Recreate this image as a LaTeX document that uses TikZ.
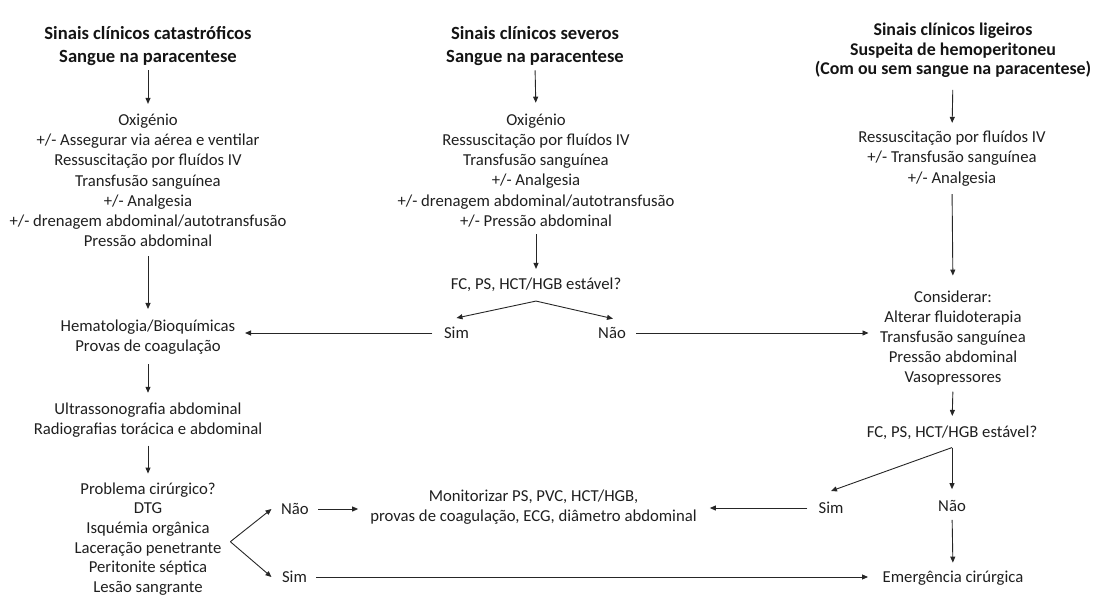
\documentclass[tikz,border=0pt]{standalone}
\usepackage{fontspec}
\setmainfont{Carlito}
\usetikzlibrary{arrows.meta}
\begin{document}
\begin{tikzpicture}[x=1pt,y=-1pt,
  txt/.style={align=center, font=\fontsize{16.7}{20.2}\selectfont, inner sep=0pt, text=black!88},
  txtc/.style={txt, font=\fontsize{16.7}{19.6}\selectfont},
  ttl/.style={align=center, font=\fontsize{18.6}{23.4}\selectfont\bfseries, inner sep=0pt, text=black!92},
  ttlb/.style={ttl, font=\fontsize{17.9}{19.7}\selectfont\bfseries},
  lbl/.style={font=\fontsize{16.7}{20}\selectfont, inner sep=0pt, text=black!88},
  arr/.style={-{Triangle[length=6pt,width=5pt]}, line width=0.9pt, draw=black!85}]
\useasboundingbox (0,0) rectangle (1097,596);

% ---- column headings
\node[ttl]  (t1) at (148,46) {Sinais clínicos catastróficos\\Sangue na paracentese};
\node[ttl]  (t2) at (535,46) {Sinais clínicos severos\\Sangue na paracentese};
\node[ttlb] (t3) at (953,50.3) {Sinais clínicos ligeiros\\Suspeita de hemoperitoneu\\(Com ou sem sangue na paracentese)};

% ---- left column
\node[txt] (l1) at (148,180.5) {Oxigénio\\+/- Assegurar via aérea e ventilar\\Ressuscitação por fluídos IV\\Transfusão sanguínea\\+/- Analgesia\\+/- drenagem abdominal/autotransfusão\\Pressão abdominal};
\node[txt] (hem) at (148,337.5) {Hematologia/Bioquímicas\\Provas de coagulação};
\node[txt] (us) at (148,420) {Ultrassonografia abdominal\\Radiografias torácica e abdominal};
\node[txtc] (prob) at (148,539) {Problema cirúrgico?\\DTG\\Isquémia orgânica\\Laceração penetrante\\Peritonite séptica\\Lesão sangrante};
\node[lbl] (nao3) at (295,509) {Não};
\node[lbl] (sim3) at (294.5,577) {Sim};

% ---- middle column
\node[txt] (m1) at (536,170.5) {Oxigénio\\Ressuscitação por fluídos IV\\Transfusão sanguínea\\+/- Analgesia\\+/- drenagem abdominal/autotransfusão\\+/- Pressão abdominal};
\node[txt] (fc1) at (536,285) {FC, PS, HCT/HGB estável?};
\node[lbl] (sim1) at (456.5,333) {Sim};
\node[lbl] (nao1) at (612,333) {Não};
\node[txt] (mon) at (533.5,507) {Monitorizar PS, PVC, HCT/HGB,\\provas de coagulação, ECG, diâmetro abdominal};

% ---- right column
\node[txt] (r1) at (952,158.5) {Ressuscitação por fluídos IV\\+/- Transfusão sanguínea\\+/- Analgesia};
\node[txt] (cons) at (953,338) {Considerar:\\Alterar fluidoterapia\\Transfusão sanguínea\\Pressão abdominal\\Vasopressores};
\node[txt] (fc2) at (952,433) {FC, PS, HCT/HGB estável?};
\node[lbl] (sim2) at (831,508) {Sim};
\node[lbl] (nao2) at (952,506) {Não};
\node[txt] (em) at (953,578) {Emergência cirúrgica};

% ---- fork points
\coordinate (f1) at ([yshift=-9pt]fc1.south);
\coordinate (f2) at ([yshift=-7.5pt]fc2.south);
\coordinate (f3) at ([xshift=8.7pt,yshift=-2.7pt]prob.east);

% ---- left column connectors
\draw[arr, shorten <=4.3pt, shorten >=10pt] (t1.south) -- (l1.north);
\draw[arr, shorten <=9pt, shorten >=11pt] (l1.south) -- (hem.north);
\draw[arr, shorten <=9pt, shorten >=9.7pt] (hem.south) -- (us.north);
\draw[arr, shorten <=8pt, shorten >=9pt] (us.south) -- (prob.north);
\draw[arr] (f3) -- ([xshift=-9.5pt]nao3.west);
\draw[arr] (f3) -- ([xshift=-10.4pt]sim3.west);
\draw[arr, shorten <=9.2pt, shorten >=12pt] (nao3.east) -- (nao3.east -| mon.west);
\draw[arr, shorten <=9pt, shorten >=14.5pt] (sim3.east) -- (sim3.east -| em.west);

% ---- middle column connectors
\draw[arr, shorten <=4.3pt, shorten >=11pt] (t2.south) -- (m1.north);
\draw[arr, shorten <=7pt, shorten >=9pt] (m1.south) -- (fc1.north);
\draw[arr] (f1) -- ([yshift=9pt]sim1.north);
\draw[arr] (f1) -- ([xshift=1pt,yshift=8.5pt]nao1.north);
\draw[arr, shorten <=11.6pt, shorten >=9.5pt] (sim1.west) -- (sim1.west -| hem.east);
\draw[arr, shorten <=10pt, shorten >=11.5pt] (nao1.east) -- (nao1.east -| cons.west);

% ---- right column connectors
\draw[arr, shorten <=12pt, shorten >=8pt] (t3.south) -- (r1.north);
\draw[arr, shorten <=8pt, shorten >=14.7pt] (r1.south) -- (cons.north);
\draw[arr, shorten <=6pt, shorten >=10pt] (cons.south) -- (fc2.north);
\draw[arr] (f2) -- ([yshift=11pt]sim2.north);
\draw[arr, shorten >=11pt] (f2) -- (nao2.north);
\draw[arr, shorten <=11pt, shorten >=13pt] (sim2.west) -- (sim2.west -| mon.east);
\draw[arr, shorten <=8pt, shorten >=8pt] (nao2.south) -- (em.north);
\end{tikzpicture}
\end{document}
